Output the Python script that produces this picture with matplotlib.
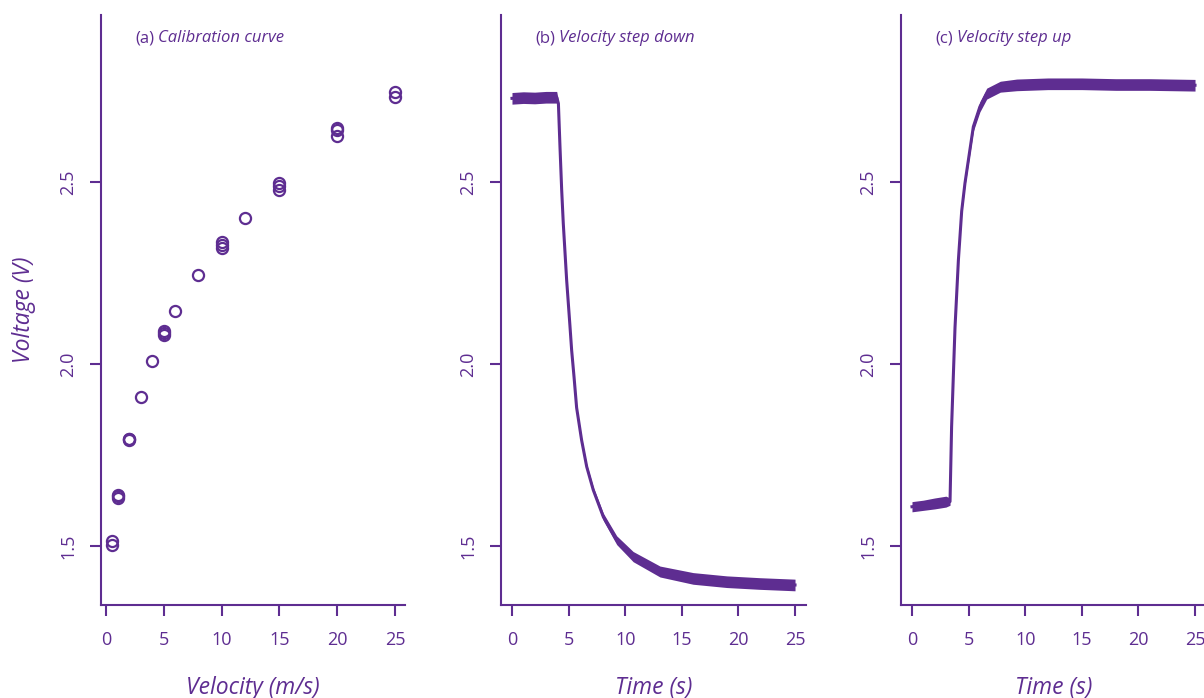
import matplotlib
matplotlib.use("Agg")
import matplotlib.pyplot as plt
from matplotlib import font_manager

# ---------------- data ----------------
cal_velocity = [0.5, 0.5, 1, 1, 1, 2, 2, 2, 3, 4, 5, 5, 5, 6, 8,
                10, 10, 10, 12, 15, 15, 15, 20, 20, 20, 25, 25]
cal_voltage = [1.514, 1.502, 1.632, 1.637, 1.640, 1.790, 1.793, 1.795, 1.910,
               2.009, 2.080, 2.086, 2.092, 2.146, 2.246, 2.318, 2.328, 2.336,
               2.400, 2.478, 2.490, 2.497, 2.626, 2.642, 2.648, 2.733, 2.747]

down_time = [0, 1, 2, 3, 3.95, 4.1, 4.24, 4.39, 4.53, 4.83, 5.12, 5.27, 5.48,
             5.71, 6.15, 6.6, 7.18, 8.07, 9.25, 10.7, 13.07, 16.0, 18.97, 21.9, 25]
down_voltage = [2.730, 2.732, 2.731, 2.733, 2.733, 2.716, 2.597, 2.478, 2.387,
                2.230, 2.105, 2.038, 1.965, 1.880, 1.791, 1.718, 1.654, 1.580,
                1.516, 1.471, 1.430, 1.411, 1.402, 1.397, 1.393]
down_noise = [0.016, 0.016, 0.016, 0.016, 0.016, 0.008, 0.005, 0.005, 0.005,
              0.005, 0.005, 0.005, 0.005, 0.005, 0.006, 0.007, 0.008, 0.010,
              0.012, 0.014, 0.015, 0.016, 0.016, 0.016, 0.016]

up_time = [0, 1, 2, 3, 3.36, 3.5, 3.65, 3.8, 4.1, 4.39, 4.68, 4.98, 5.42, 6.0,
           6.6, 7.8, 9.25, 12, 15, 18, 21, 25]
up_voltage = [1.608, 1.612, 1.617, 1.622, 1.622, 1.828, 1.965, 2.100, 2.286,
              2.420, 2.497, 2.560, 2.652, 2.707, 2.743, 2.762, 2.767, 2.770,
              2.770, 2.768, 2.768, 2.766]
up_noise = [0.014, 0.014, 0.015, 0.015, 0.010, 0.004, 0.004, 0.004, 0.005,
            0.006, 0.008, 0.010, 0.012, 0.014, 0.015, 0.015, 0.016, 0.016,
            0.016, 0.016, 0.016, 0.016]

x_ticks = [0, 5, 10, 15, 20, 25]
y_ticks = [1.5, 2.0, 2.5]
y_tick_labels = ["1.5", "2.0", "2.5"]
panel_tags = ["(a)", "(b)", "(c)"]
panel_titles = ["Calibration curve", "Velocity step down", "Velocity step up"]
x_labels = ["Velocity (m/s)", "Time (s)", "Time (s)"]
y_label = "Voltage (V)"

# ---------------- style ----------------
PURPLE = "#5e2d91"
names = {f.name for f in font_manager.fontManager.ttflist}
FONT = "Open Sans" if "Open Sans" in names else "DejaVu Sans"
plt.rcParams["font.family"] = [FONT, "DejaVu Sans"]

W, H = 1204, 698
fig = plt.figure(figsize=(W / 100, H / 100), dpi=100)

ax_px = [(101, 405), (501, 806), (901, 1206)]
bottom_px, top_px = 605, 15
xlims = [(-0.433, 25.87), (-0.97, 25.97), (-0.97, 25.97)]
ylim = (1.338, 2.959)

axes = []
for i, (l, r) in enumerate(ax_px):
    ax = fig.add_axes([l / W, (H - bottom_px) / H, (r - l) / W, (bottom_px - top_px) / H])
    ax.set_xlim(*xlims[i])
    ax.set_ylim(*ylim)
    for s in ["top", "right"]:
        ax.spines[s].set_visible(False)
    for s in ["left", "bottom"]:
        ax.spines[s].set_color(PURPLE)
        ax.spines[s].set_linewidth(1.5)
    ax.set_xticks(x_ticks)
    ax.set_xticklabels([str(t) for t in x_ticks])
    ax.set_yticks(y_ticks)
    ax.set_yticklabels(y_tick_labels)
    ax.tick_params(axis="both", direction="out", length=8, width=1.5,
                   color=PURPLE, labelcolor=PURPLE, labelsize=13)
    ax.tick_params(axis="x", pad=11)
    ax.tick_params(axis="y", pad=9)
    for lab in ax.get_yticklabels():
        lab.set_rotation(90)
        lab.set_va("center")
        lab.set_ha("right")
    ax.set_xlabel(x_labels[i], fontsize=16.5, style="italic", color=PURPLE, labelpad=19)
    t1 = ax.text(0.112, 0.961, panel_tags[i], transform=ax.transAxes,
                 fontsize=12, color=PURPLE, va="center", ha="left")
    ax.annotate(panel_titles[i], xy=(1, 0.5), xycoords=t1, xytext=(3, 0),
                textcoords="offset points", fontsize=12, style="italic",
                color=PURPLE, va="center", ha="left")
    axes.append(ax)

axes[0].set_ylabel(y_label, fontsize=16.5, style="italic", color=PURPLE, labelpad=17)

# (a) calibration scatter
axes[0].plot(cal_velocity, cal_voltage, linestyle="none", marker="o", markersize=8,
             markerfacecolor="none", markeredgecolor=PURPLE, markeredgewidth=1.6)

# (b) step down
lo = [v - n for v, n in zip(down_voltage, down_noise)]
hi = [v + n for v, n in zip(down_voltage, down_noise)]
axes[1].fill_between(down_time, lo, hi, color=PURPLE, linewidth=0)
axes[1].plot(down_time, down_voltage, color=PURPLE, linewidth=2.2)

# (c) step up
lo = [v - n for v, n in zip(up_voltage, up_noise)]
hi = [v + n for v, n in zip(up_voltage, up_noise)]
axes[2].fill_between(up_time, lo, hi, color=PURPLE, linewidth=0)
axes[2].plot(up_time, up_voltage, color=PURPLE, linewidth=2.2)

fig.savefig("out.png", dpi=100)
